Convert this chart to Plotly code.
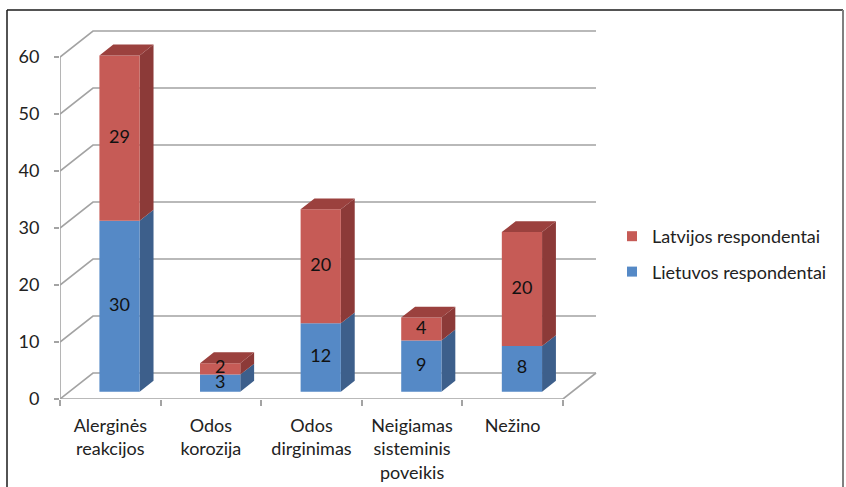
import plotly.graph_objects as go

# Survey answers per category, stacked by country
categories = ["Alerginės<br>reakcijos", "Odos<br>korozija", "Odos<br>dirginimas",
              "Neigiamas<br>sisteminis<br>poveikis", "Nežino"]
lietuvos = [30, 3, 12, 9, 8]
latvijos = [29, 2, 20, 4, 20]
y_ticks = [0, 10, 20, 30, 40, 50, 60]

# Pseudo-3D geometry (oblique projection)
W, H = 846, 487
L, R, T, B = 60, 600, 22, 399          # plot area in pixels
PX_X = 100.6                            # pixels per category
PX_Y = 5.7                              # pixels per value unit
DX = 33 / PX_X                          # full depth, x shift in data units
DY = 26 / PX_Y                          # full depth, y shift in data units
F0, F1 = 0.28, 0.70                     # bar front / back depth fractions
BW = 0.40                               # bar width in category units
ddx, ddy = (F1 - F0) * DX, (F1 - F0) * DY
n = len(categories)

GRID = "#a3a3a3"
BLUE_F, BLUE_S = "#5589c6", "#3d5f8b"
RED_F, RED_S, RED_T = "#c65b56", "#8c3a38", "#9b413e"
FONT = "Lato"
FS = 18

fig = go.Figure()

# walls: gridlines on left wall and back wall
gx, gy = [], []
for v in y_ticks:
    gx += [0, DX, n + DX, None]
    gy += [v, v + DY, v + DY, None]
# floor front edge and right edge, y-axis line
gx += [0, n, n + DX, None, 0, 0, None]
gy += [0, 0, DY, None, 0, max(y_ticks), None]
fig.add_trace(go.Scatter(x=gx, y=gy, mode="lines", line=dict(color=GRID, width=1.6),
                         hoverinfo="skip", showlegend=False))


def front(i, lo, hi):
    x0 = i + 0.5 - BW / 2 + F0 * DX
    x1 = x0 + BW
    a, b = lo + F0 * DY, hi + F0 * DY
    return [x0, x1, x1, x0, x0, None], [a, a, b, b, a, None]


def side(i, lo, hi):
    xr = i + 0.5 + BW / 2 + F0 * DX
    a, b = lo + F0 * DY, hi + F0 * DY
    return [xr, xr + ddx, xr + ddx, xr, xr, None], [a, a + ddy, b + ddy, b, a, None]


def top(i, hi):
    x0 = i + 0.5 - BW / 2 + F0 * DX
    x1 = x0 + BW
    b = hi + F0 * DY
    return [x0, x1, x1 + ddx, x0 + ddx, x0, None], [b, b, b + ddy, b + ddy, b, None]


faces = {k: ([], []) for k in ["bf", "bs", "rf", "rs", "rt"]}
for i in range(n):
    lo_b, hi_b = 0, lietuvos[i]
    lo_r, hi_r = lietuvos[i], lietuvos[i] + latvijos[i]
    for key, (px, py) in [("bf", front(i, lo_b, hi_b)), ("bs", side(i, lo_b, hi_b)),
                          ("rf", front(i, lo_r, hi_r)), ("rs", side(i, lo_r, hi_r)),
                          ("rt", top(i, hi_r))]:
        faces[key][0].extend(px)
        faces[key][1].extend(py)

for key, col in [("bs", BLUE_S), ("bf", BLUE_F), ("rs", RED_S), ("rf", RED_F), ("rt", RED_T)]:
    fig.add_trace(go.Scatter(x=faces[key][0], y=faces[key][1], mode="lines",
                             fill="toself", fillcolor=col, line=dict(width=0, color=col),
                             hoverinfo="skip", showlegend=False))

# value labels centred on the front faces
tx, ty, tt = [], [], []
for i in range(n):
    cx = i + 0.5 + F0 * DX
    tx += [cx, cx]
    ty += [lietuvos[i] / 2 + F0 * DY, lietuvos[i] + latvijos[i] / 2 + F0 * DY]
    tt += [str(lietuvos[i]), str(latvijos[i])]
fig.add_trace(go.Scatter(x=tx, y=ty, text=tt, mode="text",
                         textfont=dict(family=FONT, size=FS, color="#111111"),
                         hoverinfo="skip", showlegend=False, cliponaxis=False))

# legend entries
fig.add_trace(go.Scatter(x=[None], y=[None], mode="markers", name="Latvijos respondentai",
                         marker=dict(symbol="square", size=10, color=RED_F),
                         legendgroup="lv"))
fig.add_trace(go.Scatter(x=[None], y=[None], mode="markers", name="Lietuvos respondentai",
                         marker=dict(symbol="square", size=10, color=BLUE_F),
                         legendgroup="lt"))

x_max = (R - L) / PX_X
y_max = (B - T) / PX_Y


def px_to_paper_x(p):
    return (p - L) / (R - L)


def px_to_paper_y(p):
    return (B - p) / (B - T)


fig.update_layout(
    width=W, height=H,
    margin=dict(l=L, r=W - R, t=T, b=H - B, pad=0, autoexpand=False),
    paper_bgcolor="white", plot_bgcolor="white",
    font=dict(family=FONT, size=FS, color="#222222"),
    xaxis=dict(range=[0, x_max], tickvals=[i + 0.5 for i in range(n)], ticktext=categories,
               showgrid=False, zeroline=False, showline=False, ticks="", automargin=False,
               tickfont=dict(size=FS), ticklabelstandoff=14, fixedrange=True),
    xaxis2=dict(range=[0, x_max], overlaying="x", anchor="y", side="bottom",
                tickvals=list(range(n + 1)), showticklabels=False, ticks="outside",
                ticklen=6, tickcolor=GRID, tickwidth=1.6, automargin=False,
                showgrid=False, zeroline=False, showline=False),
    yaxis=dict(range=[0, y_max], tickvals=y_ticks, showgrid=False, zeroline=False,
               showline=False, ticks="outside", ticklen=5, tickcolor=GRID, tickwidth=1.6,
               automargin=False, tickfont=dict(size=FS), ticklabelstandoff=11,
               fixedrange=True),
    legend=dict(x=px_to_paper_x(612), xanchor="left", y=px_to_paper_y(254), yanchor="middle",
                traceorder="grouped", tracegroupgap=9, font=dict(size=FS),
                bgcolor="rgba(0,0,0,0)", itemwidth=30),
    shapes=[
        dict(type="line", xref="paper", yref="paper", x0=px_to_paper_x(7), x1=px_to_paper_x(7),
             y0=px_to_paper_y(10), y1=px_to_paper_y(520), line=dict(color="#1a1a1a", width=1.5)),
        dict(type="line", xref="paper", yref="paper", x0=px_to_paper_x(7), x1=px_to_paper_x(843),
             y0=px_to_paper_y(10), y1=px_to_paper_y(10), line=dict(color="#1a1a1a", width=1.5)),
        dict(type="line", xref="paper", yref="paper", x0=px_to_paper_x(843), x1=px_to_paper_x(843),
             y0=px_to_paper_y(10), y1=px_to_paper_y(520), line=dict(color="#808080", width=2)),
    ],
)
# dummy trace so the boundary ticks axis is rendered
fig.add_trace(go.Scatter(x=[None], y=[None], xaxis="x2", showlegend=False, hoverinfo="skip"))

fig.write_html("out.html")
